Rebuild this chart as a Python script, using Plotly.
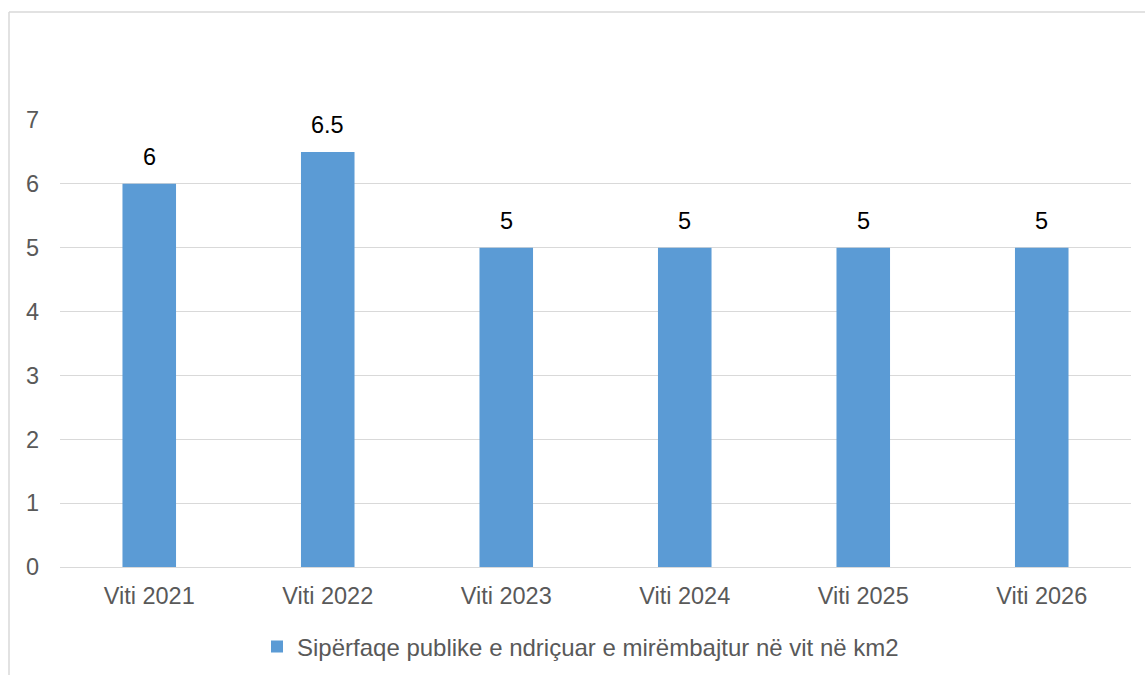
import plotly.graph_objects as go

categories = ["Viti 2021", "Viti 2022", "Viti 2023", "Viti 2024", "Viti 2025", "Viti 2026"]
values = [6, 6.5, 5, 5, 5, 5]
series_name = "Sipërfaqe publike e ndriçuar e mirëmbajtur në vit në km2"
y_ticks = [0, 1, 2, 3, 4, 5, 6, 7]

W, H = 1145, 675
ml, mr, mt, mb = 60, 14, 120, 108
pw, ph = W - ml - mr, H - mt - mb
FS = 23.5

fig = go.Figure()
fig.add_trace(go.Bar(
    x=categories, y=values, name=series_name,
    marker=dict(color="#5B9BD5", line=dict(width=0)),
    showlegend=True,
))

for c, v in zip(categories, values):
    fig.add_annotation(x=c, y=v, text=f"{v:g}", showarrow=False,
                       yanchor="middle", yshift=27,
                       font=dict(family="Liberation Sans, Arial", size=FS, color="#000000"))

def px_x(p):
    return (p - ml) / pw

def px_y(p):
    return (H - mb - p) / ph

fig.add_shape(type="line", xref="paper", yref="paper",
              x0=px_x(9), x1=px_x(W + 5), y0=px_y(12), y1=px_y(12),
              line=dict(color="#D9D9D9", width=1.5))
fig.add_shape(type="line", xref="paper", yref="paper",
              x0=px_x(9), x1=px_x(9), y0=px_y(12), y1=px_y(H + 5),
              line=dict(color="#D9D9D9", width=1.5))

fig.update_layout(
    width=W, height=H,
    margin=dict(l=ml, r=mr, t=mt, b=mb, autoexpand=False),
    paper_bgcolor="white", plot_bgcolor="white",
    bargap=0.70,
    font=dict(family="Liberation Sans, Arial", size=FS, color="#595959"),
    xaxis=dict(showgrid=False, showline=False, ticks="", zeroline=False,
               tickfont=dict(size=FS, color="#595959"), ticklabelstandoff=12),
    yaxis=dict(range=[0, 7], tickvals=y_ticks, showgrid=True, gridcolor="#D9D9D9",
               gridwidth=1, zeroline=True, zerolinecolor="#D9D9D9", zerolinewidth=1,
               showline=False, ticks="", tickfont=dict(size=FS, color="#595959"),
               ticklabelstandoff=20),
    legend=dict(orientation="h", x=0.5 - 15 / pw, xanchor="center", y=-0.179, yanchor="middle",
                font=dict(size=24, color="#595959"), bgcolor="rgba(0,0,0,0)"),
)

fig.write_html("out.html", config={"displayModeBar": False},
               post_script="document.body.style.margin='0';")
